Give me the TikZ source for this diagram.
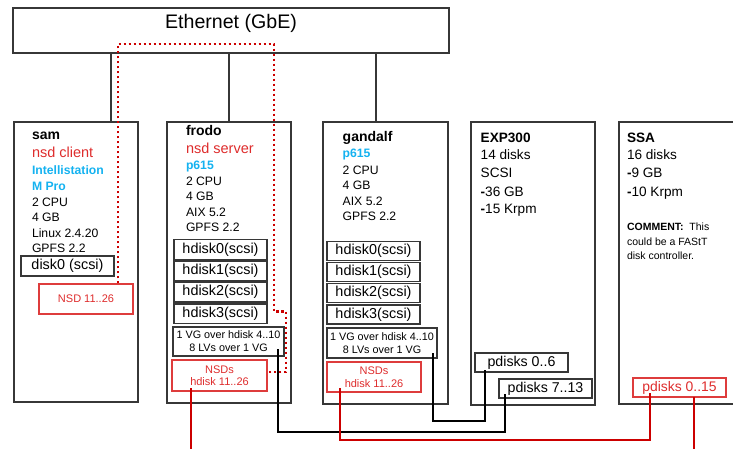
\documentclass[tikz,border=0pt]{standalone}
\usepackage{fontspec}
\setmainfont{Liberation Sans}
\usetikzlibrary{fit}
\definecolor{redtxt}{RGB}{222,44,44}
\definecolor{redline}{RGB}{204,0,0}
\definecolor{redbox}{RGB}{222,60,60}
\definecolor{cyantxt}{RGB}{20,178,240}
\definecolor{boxgray}{RGB}{55,55,55}
\tikzset{
  box/.style={draw=boxgray, line width=1.5pt, inner sep=0pt, rectangle},
  dbox/.style={draw=boxgray, line width=1.3pt, inner sep=0pt, rectangle, minimum width=93pt, font=\fontsize{14.4}{16}\selectfont},
  vgbox/.style={draw=boxgray, line width=1.3pt, inner sep=0pt, rectangle, align=center, font=\fontsize{10.8}{13.2}\selectfont},
  rbox/.style={draw=redbox, line width=1.1pt, inner sep=0pt, rectangle, text=redtxt, align=center, font=\fontsize{11}{12.5}\selectfont},
  pbox/.style={draw=boxgray, line width=1.3pt, inner sep=0pt, rectangle, minimum width=93pt, minimum height=19pt, font=\fontsize{14.2}{16}\selectfont},
  txt/.style={anchor=base west, inner sep=0pt, outer sep=0pt},
  fname/.style={txt, font=\fontsize{14}{16}\selectfont\bfseries},
  frole/.style={txt, font=\fontsize{14.5}{16}\selectfont, text=redtxt},
  fcyan/.style={txt, font=\fontsize{12.2}{14}\selectfont\bfseries, text=cyantxt},
  fspec/.style={txt, font=\fontsize{12.2}{14}\selectfont},
  fstor/.style={txt, font=\fontsize{13.6}{16}\selectfont},
  fcomm/.style={txt, font=\fontsize{10.5}{12}\selectfont},
  blink/.style={line width=2.7pt, draw=black},
  rlink/.style={line width=2.7pt, draw=redline},
  dlink/.style={line width=2.8pt, draw=redline, dash pattern=on 2.8pt off 2.2pt},
  elink/.style={line width=1.3pt, draw=boxgray},
}
\begin{document}
\begin{tikzpicture}[x=1pt,y=-1pt]
\useasboundingbox (0,0) rectangle (733,448);

% Ethernet
\node[box, fit={(13,8) (449,53)}] (eth) {};
\node[anchor=base, inner sep=0pt, font=\fontsize{19.6}{22}\selectfont] (ethtxt) at (231,28) {Ethernet (GbE)};

% host boxes
\node[box, fit={(14,122) (138,402)}] (sam) {};
\node[box, fit={(167,122) (291,403)}] (frodo) {};
\node[box, fit={(323,122) (448,404)}] (gandalf) {};
\node[box, fit={(471,122) (595,405)}] (exp) {};
\node[box, fit={(619,122) (740,404)}] (ssa) {};

% ethernet taps
\coordinate (tapS) at (111,0);
\coordinate (tapG) at (376,0);
\draw[elink] (eth.south -| tapS) -- (tapS |- sam.north);
\draw[elink] (eth.south -| frodo.north) -- (frodo.north);
\draw[elink] (eth.south -| tapG) -- (tapG |- gandalf.north);

% sam texts
\node[fname] (s1) at (32,139) {sam};
\node[frole] (s2) at (32,157) {nsd client};
\node[fcyan] (s3) at (32,174.5) {Intellistation};
\node[fcyan] (s4) at (32,190.5) {M Pro};
\node[fspec] (s5) at (32,206.5) {2 CPU};
\node[fspec] (s6) at (32,221.5) {4 GB};
\node[fspec] (s7) at (32,237.5) {Linux 2.4.20};
\node[fspec] (s8) at (32,252.5) {GPFS 2.2};
\node[dbox, fill=white, minimum height=20pt] (sdisk) at (67.5,266) {disk0 (scsi)};
\node[rbox, minimum width=94pt, minimum height=30pt] (snsd) at (86,299) {NSD 11..26};

% frodo texts
\node[fname] (f1) at (186,135) {frodo};
\node[frole] (f2) at (186,153.3) {nsd server};
\node[fcyan] (f3) at (186,169.3) {p615};
\node[fspec] (f4) at (186,185) {2 CPU};
\node[fspec] (f5) at (186,200.7) {4 GB};
\node[fspec] (f6) at (186,216.7) {AIX 5.2};
\node[fspec] (f7) at (186,231.7) {GPFS 2.2};
\node[dbox, minimum height=20pt] (fh0) at (220.5,249.5) {hdisk0(scsi)};
\node[dbox, minimum height=20pt] (fh1) at (220.5,271) {hdisk1(scsi)};
\node[dbox, minimum height=19.5pt] (fh2) at (220.5,292.25) {hdisk2(scsi)};
\node[dbox, minimum height=19.5pt] (fh3) at (220.5,313.75) {hdisk3(scsi)};
\node[vgbox, minimum width=111pt, minimum height=29pt] (fvg) at (228.5,341.5) {1 VG over hdisk 4..10\\8 LVs over 1 VG};
\node[rbox, minimum width=95pt, minimum height=31pt] (fnsd) at (219.5,375.5) {NSDs\\hdisk 11..26};

% gandalf texts
\node[fname] (g1) at (342.7,141) {gandalf};
\node[fcyan] (g2) at (342.7,157.3) {p615};
\node[fspec] (g3) at (342.7,174) {2 CPU};
\node[fspec] (g4) at (342.7,189.3) {4 GB};
\node[fspec] (g5) at (342.7,205) {AIX 5.2};
\node[fspec] (g6) at (342.7,220.7) {GPFS 2.2};
\node[dbox, minimum height=19pt] (gh0) at (373.5,251) {hdisk0(scsi)};
\node[dbox, minimum height=19pt] (gh1) at (373.5,272) {hdisk1(scsi)};
\node[dbox, minimum height=19pt] (gh2) at (373.5,293) {hdisk2(scsi)};
\node[dbox, minimum height=19pt] (gh3) at (373.5,314.5) {hdisk3(scsi)};
\node[vgbox, minimum width=110pt, minimum height=30pt] (gvg) at (382,343) {1 VG over hdisk 4..10\\8 LVs over 1 VG};
\node[rbox, minimum width=94pt, minimum height=30pt] (gnsd) at (374,377) {NSDs\\hdisk 11..26};

% EXP300 texts
\node[fstor, font=\fontsize{13.6}{16}\selectfont\bfseries] (e1) at (480.7,142.3) {EXP300};
\node[fstor] (e2) at (480.7,159.3) {14 disks};
\node[fstor] (e3) at (480.7,177.7) {SCSI};
\node[fstor] (e4) at (480.7,196) {\textbf{-}36 GB};
\node[fstor] (e5) at (480.7,213.3) {\textbf{-}15 Krpm};
\node[pbox, fill=white] (p06) at (521.5,362.5) {pdisks 0..6};
\node[pbox, fill=white] (p713) at (545.5,388.5) {pdisks 7..13};

% SSA texts
\node[fstor, font=\fontsize{13.6}{16}\selectfont\bfseries] (a1) at (627,142.3) {SSA};
\node[fstor] (a2) at (627,159.3) {16 disks};
\node[fstor] (a3) at (627,177.7) {\textbf{-}9 GB};
\node[fstor] (a4) at (627,196) {\textbf{-}10 Krpm};
\node[fcomm] (a5) at (627,230.5) {\textbf{COMMENT:}\ \ This};
\node[fcomm] (a6) at (627,245) {could be a FAStT};
\node[fcomm] (a7) at (627,259.5) {disk controller.};
\node[rbox, font=\fontsize{13.9}{16}\selectfont, minimum width=93pt, minimum height=19pt] (p015) at (679.5,387.5) {pdisks 0..15};

% connector points
\coordinate (c1a) at (278,349);
\coordinate (c1b) at (278,432);
\coordinate (c1c) at (505,432);
\coordinate (c1d) at (505,394);
\coordinate (c2a) at (433,353);
\coordinate (c2b) at (433,421);
\coordinate (c2c) at (485,421);
\coordinate (c2d) at (485,370);
\coordinate (r1a) at (191,388);
\coordinate (r1b) at (191,452);
\coordinate (r2a) at (340,388);
\coordinate (r2b) at (340,440);
\coordinate (r2c) at (650,440);
\coordinate (r2d) at (650,393);
\coordinate (r3a) at (694,397);
\coordinate (r3b) at (694,452);
\coordinate (d1) at (118,44);
\coordinate (d2) at (274,44);
\coordinate (d3) at (274,311.5);
\coordinate (d4) at (286,311.5);
\coordinate (d5) at (286,372);

% black connectors
\draw[blink] (c1a) -- (c1b) -- (c1c) -- (c1d);
\draw[blink] (c2a) -- (c2b) -- (c2c) -- (c2d);

% red connectors
\draw[rlink] (r1a) -- (r1b);
\draw[rlink] (r2a) -- (r2b) -- (r2c) -- (r2d);
\draw[rlink] (r3a) -- (r3b);

% red dotted
\draw[dlink] (snsd.north -| d1) -- (d1) -- (d2) -- (d3) -- (d4) -- (d5) -- (d5 -| fnsd.east);

\end{tikzpicture}
\end{document}
